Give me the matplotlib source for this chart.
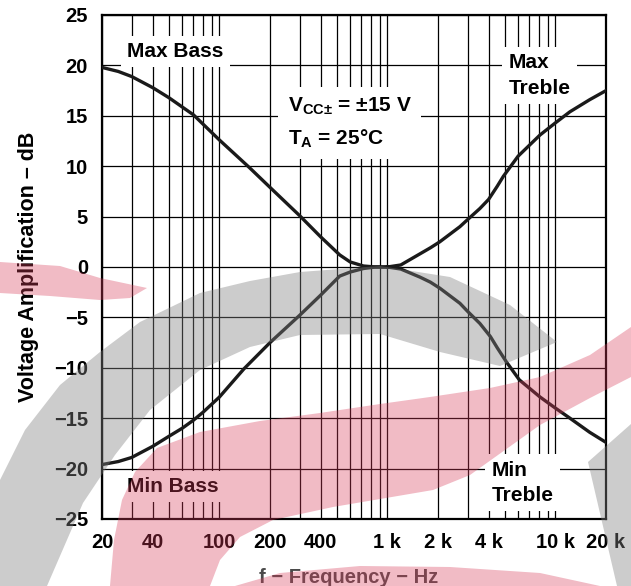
import matplotlib
matplotlib.use("Agg")
import matplotlib.pyplot as plt
from matplotlib.patches import Polygon
from matplotlib.ticker import FixedLocator, NullFormatter

plt.rcParams['font.family'] = ['Liberation Sans', 'DejaVu Sans']
plt.rcParams['font.weight'] = 'bold'
plt.rcParams['mathtext.default'] = 'regular'

# curve values (Hz, dB)
bass_f = [20, 25, 30, 40, 50, 70, 100, 150, 200, 300, 400, 520, 600, 720, 850, 1000]
max_bass = [19.8, 19.4, 18.9, 17.8, 16.8, 15.1, 12.6, 9.9, 7.9, 5.1, 3.0, 1.2, 0.5, 0.1, 0.0, 0.0]

min_bass_f = [20, 25, 30, 40, 50, 60, 70, 80, 100, 140, 200, 300, 400, 520, 600, 720, 850, 1000]
min_bass = [-19.6, -19.3, -18.9, -17.8, -16.8, -16.0, -15.2, -14.4, -12.9, -10.1, -7.5, -4.8,
            -2.8, -0.9, -0.5, -0.15, 0.0, 0.0]

treble_f = [1000, 1200, 1560, 1800, 2050, 2700, 3000, 3550, 4000, 4500, 4900, 6000, 8100, 10000, 12200, 16000, 20000]
max_treble = [0.0, 0.2, 1.3, 1.9, 2.5, 4.0, 4.7, 5.8, 6.7, 8.0, 9.0, 11.0, 13.1, 14.3, 15.4, 16.6, 17.5]

min_treble_f = [1000, 1200, 1560, 1800, 2050, 2700, 3000, 3550, 4100, 4500, 5100, 6100, 8100, 10000, 12200, 16000, 20000]
min_treble = [0.0, -0.2, -1.0, -1.5, -2.1, -3.6, -4.4, -5.6, -6.9, -8.0, -9.4, -11.2, -12.9, -14.0, -15.0, -16.4, -17.4]

xtick_vals = [20, 40, 100, 200, 400, 1000, 2000, 4000, 10000, 20000]
xtick_labels = ['20', '40', '100', '200', '400', '1 k', '2 k', '4 k', '10 k', '20 k']
xgrid_vals = ([20, 30, 40, 50, 60, 70, 80, 90] + [100 * i for i in range(1, 10)]
              + [1000 * i for i in range(1, 10)] + [10000, 20000])
ytick_vals = list(range(-25, 30, 5))
ytick_labels = [str(v).replace('-', '\u2212') for v in ytick_vals]

W, H = 631, 586
fig = plt.figure(figsize=(W / 100, H / 100), dpi=100)
ax = fig.add_axes([102 / W, 1 - 519 / H, 504 / W, 504 / H])
ax.patch.set_alpha(0)

ax.set_xscale('log')
ax.set_xlim(20, 20000)
ax.set_ylim(-25, 25)
ax.xaxis.set_major_locator(FixedLocator(xtick_vals))
ax.set_xticklabels(xtick_labels)
ax.xaxis.set_minor_locator(FixedLocator(xgrid_vals))
ax.xaxis.set_minor_formatter(NullFormatter())
ax.set_yticks(ytick_vals)
ax.set_yticklabels(ytick_labels)
ax.tick_params(which='both', length=0, labelsize=14.5)
ax.tick_params(axis='x', pad=10)
ax.tick_params(axis='y', pad=10)
ax.grid(True, which='both', axis='x', color='black', lw=0.9)
ax.grid(True, which='major', axis='y', color='black', lw=0.9)
ax.set_axisbelow(True)
for s in ax.spines.values():
    s.set_linewidth(1.6)

for f, v in [(bass_f, max_bass), (min_bass_f, min_bass),
             (treble_f, max_treble), (min_treble_f, min_treble)]:
    ax.plot(f, v, color='#1a1a1a', lw=2.4, solid_joinstyle='round', zorder=3)

box = dict(boxstyle='square,pad=0.3', fc='white', ec='none')
ax.text(28.2, 21.4, 'Max Bass', fontsize=15, ha='left', va='center', bbox=box, zorder=4)
ax.text(28.2, -21.8, 'Min Bass', fontsize=15, ha='left', va='center', bbox=box, zorder=4)
ax.text(5250, 19.0, 'Max\nTreble', fontsize=15, ha='left', va='center', linespacing=1.45,
        bbox=box, zorder=4)
ax.text(4150, -21.4, 'Min\nTreble', fontsize=15, ha='left', va='center', linespacing=1.4,
        bbox=box, zorder=4)
ax.text(255, 14.3, 'V$_{CC\u00b1}$ = \u00b115 V\nT$_{A}$ = 25\u00b0C', fontsize=15,
        ha='left', va='center', linespacing=1.6,
        bbox=dict(boxstyle='square,pad=0.45', fc='white', ec='none'), zorder=4)

ax.set_xlabel('f \u2212 Frequency \u2212 Hz', fontsize=14.5, fontweight='bold', color='#4a4a4a')
ax.xaxis.set_label_coords(0.49, -0.098)
ax.set_ylabel('Voltage Amplification \u2013 dB', fontsize=15.5, fontweight='bold')
ax.yaxis.set_label_coords(-0.125, 0.5)

# faint watermark drawn over the chart (pixel outlines, y measured from top)
gray_ring = [(0, 480), (25, 430), (60, 385), (100, 352), (140, 322), (200, 293), (250, 281),
             (300, 272), (380, 266), (450, 277), (510, 305), (557, 342),
             (500, 366), (440, 352), (380, 334), (300, 335), (250, 347), (200, 370),
             (150, 410), (115, 455), (83, 503), (47, 586), (0, 586)]
gray_wedge = [(588, 462), (631, 424), (631, 586), (617, 586)]
pink_small = [(0, 262), (60, 266), (100, 278), (147, 288), (130, 298), (100, 300),
              (50, 296), (0, 293)]
pink_big = [(110, 586), (114, 540), (122, 500), (135, 472), (157, 448), (200, 432),
            (260, 421), (320, 413), (380, 404), (430, 397), (490, 388), (540, 377),
            (590, 355), (631, 327), (631, 377), (590, 398), (540, 425), (470, 475),
            (433, 490), (333, 507), (273, 520), (240, 537), (220, 560), (210, 586)]
pink_low = [(235, 586), (280, 573), (360, 566), (450, 567), (540, 573), (600, 586)]

def wm(points, color, alpha):
    pts = [(x / W, 1 - y / H) for x, y in points]
    fig.patches.append(Polygon(pts, closed=True, transform=fig.transFigure, fc=color,
                               ec='none', alpha=alpha, zorder=10))

wm(gray_ring, '#808080', 0.4)
wm(gray_wedge, '#808080', 0.4)
wm(pink_small, '#d73c5a', 0.35)
wm(pink_big, '#d73c5a', 0.35)
wm(pink_low, '#d73c5a', 0.35)

fig.savefig('out.png', dpi=100)
